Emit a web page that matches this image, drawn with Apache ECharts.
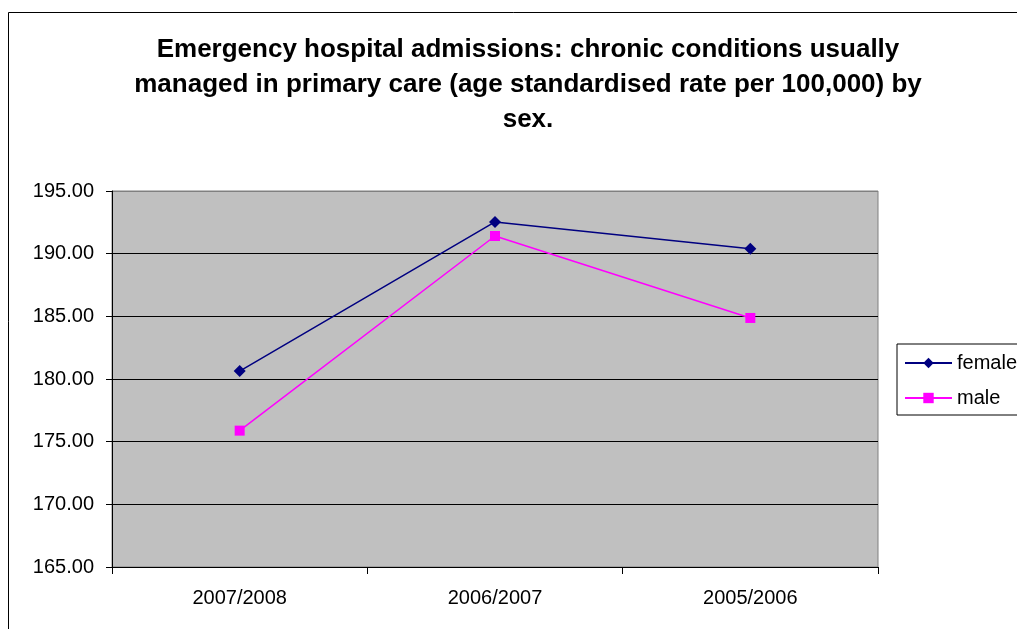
<!DOCTYPE html>
<html><head><meta charset="utf-8">
<script src="https://cdn.jsdelivr.net/npm/echarts@6/dist/echarts.min.js"></script>
<style>html,body{margin:0;padding:0;background:#fff}#c{width:1017px;height:629px}</style>
</head><body><div id="c"></div>
<script>
var categories = ['2007/2008', '2006/2007', '2005/2006'];
var female = [180.63, 192.53, 190.40];
var male = [175.88, 191.41, 184.87];
var yMin = 165, yMax = 195, yStep = 5;
var titleText = 'Emergency hospital admissions: chronic conditions usually\nmanaged in primary care (age standardised rate per 100,000) by\nsex.';

var chart = echarts.init(document.getElementById('c'), null, {renderer: 'canvas'});
chart.setOption({
  backgroundColor: '#fff',
  animation: false,
  graphic: [{
    type: 'rect', silent: true, z: -1,
    shape: {x: 8.5, y: 12.5, width: 1200, height: 800},
    style: {fill: '#fff', stroke: '#000', lineWidth: 1}
  }],
  title: {
    text: titleText,
    left: 523, top: 27, textAlign: 'center',
    textStyle: {fontFamily: 'Liberation Sans, Arial', fontWeight: 'bold', fontSize: 26, lineHeight: 35, color: '#000'}
  },
  grid: {left: 112, right: 139, top: 191, bottom: 62, show: true, backgroundColor: '#c0c0c0', borderColor: '#808080', borderWidth: 1},
  legend: {
    left: 897, top: 344, orient: 'vertical',
    data: ['female', 'male'],
    itemWidth: 47, itemHeight: 13, itemGap: 15,
    padding: [9, 20, 7, 7],
    backgroundColor: '#fff', borderColor: '#000', borderWidth: 1,
    textStyle: {fontFamily: 'Liberation Sans, Arial', fontSize: 20, color: '#000'}
  },
  xAxis: {
    type: 'category', data: categories, boundaryGap: true,
    axisLine: {lineStyle: {color: '#000', width: 1}},
    axisTick: {show: true, length: 7, lineStyle: {color: '#000'}},
    axisLabel: {fontFamily: 'Liberation Sans, Arial', fontSize: 20, color: '#000', margin: 21}
  },
  yAxis: {
    type: 'value', min: yMin, max: yMax, interval: yStep,
    axisLine: {show: true, lineStyle: {color: '#000', width: 1}},
    axisTick: {show: true, length: 6, lineStyle: {color: '#000'}},
    axisLabel: {fontFamily: 'Liberation Sans, Arial', fontSize: 20, color: '#000', margin: 18, formatter: function (v) { return v.toFixed(2); }},
    splitLine: {show: true, lineStyle: {color: ['#000', '#000', '#000', '#000', '#000', '#000', '#808080'], width: 1}}
  },
  series: [
    {name: 'female', type: 'line', data: female, symbol: 'diamond', symbolSize: 12,
     lineStyle: {color: '#000080', width: 1.5}, itemStyle: {color: '#000080'}},
    {name: 'male', type: 'line', data: male, symbol: 'rect', symbolSize: 10,
     lineStyle: {color: '#ff00ff', width: 1.5}, itemStyle: {color: '#ff00ff'}}
  ]
});
</script></body></html>
